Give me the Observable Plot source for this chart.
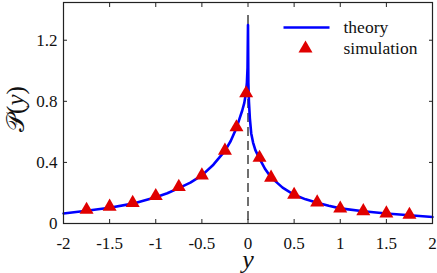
<!DOCTYPE html>
<html>
<head>
<meta charset="utf-8">
<script src="https://cdn.jsdelivr.net/npm/d3@7"></script>
<script src="https://cdn.jsdelivr.net/npm/@observablehq/plot@0.6"></script>
<style>
  html, body { margin: 0; padding: 0; background: #fff; }
</style>
</head>
<body>
<div id="chart"></div>
<script>
// Theory curve
const theoryY = [-2, -1.75, -1.5, -1.25, -1, -0.875, -0.75, -0.625, -0.5, -0.375, -0.25, -0.1875, -0.125, -0.09, -0.0625, -0.04, -0.025, -0.012, -0.005, 0, 0.004, 0.01, 0.02, 0.035, 0.055, 0.08, 0.125, 0.1875, 0.25, 0.375, 0.5, 0.625, 0.75, 0.875, 1, 1.25, 1.5, 1.75, 2];
const theoryP = [0.066, 0.083, 0.103, 0.13, 0.172, 0.198, 0.232, 0.268, 0.315, 0.385, 0.475, 0.54, 0.625, 0.69, 0.74, 0.79, 0.845, 0.92, 1.02, 1.30, 0.92, 0.80, 0.69, 0.59, 0.53, 0.48, 0.425, 0.355, 0.302, 0.235, 0.188, 0.158, 0.136, 0.116, 0.099, 0.08, 0.066, 0.054, 0.043];

// Simulation points
const simY = [-1.75, -1.5, -1.25, -1, -0.75, -0.5, -0.25, -0.125, -0.02, 0.125, 0.25, 0.5, 0.75, 1, 1.25, 1.5, 1.75];
const simP = [0.09, 0.11, 0.135, 0.18, 0.24, 0.315, 0.477, 0.63, 0.853, 0.43, 0.30, 0.188, 0.138, 0.098, 0.081, 0.066, 0.057];

// Ticks
const xTicks = [-2, -1.5, -1, -0.5, 0, 0.5, 1, 1.5, 2];
const yTicks = [0, 0.4, 0.8, 1.2];
const xDomain = [-2, 2];
const yDomain = [0, 1.447];

// Legend labels
const seriesNames = ["theory", "simulation"];
const xLabel = "y";
const yLabelP = "𝒫";

const theory = theoryY.map((y, i) => ({y, p: theoryP[i]}));
const sim = simY.map((y, i) => ({y, p: simP[i]}));

const lineSymbol = {
  draw(context, size) {
    context.moveTo(-23, 0);
    context.lineTo(23, 0);
  }
};

const fmt = d => String(d);
const SERIF = "'Liberation Serif', 'Times New Roman', 'DejaVu Serif', serif";

const chart = Plot.plot({
  width: 437,
  height: 273,
  marginLeft: 63,
  marginRight: 5,
  marginTop: 2,
  marginBottom: 50,
  style: {background: "#fff", color: "#111"},
  x: {domain: xDomain},
  y: {domain: yDomain},
  marks: [
    Plot.ruleX([0], {stroke: "#333", strokeWidth: 1.4, strokeDasharray: "9,5", insetTop: 13}),
    Plot.line(theory, {x: "y", y: "p", stroke: "#0000ff", strokeWidth: 2.6}),
    Plot.dot(sim, {x: "y", y: "p", symbol: "triangle", r: 5.2, fill: "#e00000", stroke: "none"}),
    Plot.frame({stroke: "#222", strokeWidth: 1.2}),
    Plot.axisX({ticks: xTicks, tickSize: -4, tickPadding: 17, tickFormat: fmt, label: null, stroke: "#222", fontSize: 17}),
    Plot.axisX({anchor: "top", ticks: xTicks, tickSize: -4, tickFormat: () => "", label: null, stroke: "#222"}),
    Plot.axisY({ticks: yTicks, tickSize: -4, tickPadding: 10, tickFormat: fmt, label: null, stroke: "#222", fontSize: 17}),
    Plot.axisY({anchor: "right", ticks: yTicks, tickSize: -4, tickFormat: () => "", label: null, stroke: "#222"}),
    // legend
    Plot.dot([seriesNames[0]], {frameAnchor: "top-right", dx: -126, dy: 25, symbol: lineSymbol, r: 5, fill: "none", stroke: "#0000ff", strokeWidth: 2.6}),
    Plot.dot([seriesNames[1]], {frameAnchor: "top-right", dx: -127, dy: 46, symbol: "triangle", r: 5.2, fill: "#e00000", stroke: "none"}),
    Plot.text([seriesNames[0]], {text: d => d, frameAnchor: "top-right", dx: -89, dy: 25, textAnchor: "start", lineAnchor: "middle", fontSize: 17.5}),
    Plot.text([seriesNames[1]], {text: d => d, frameAnchor: "top-right", dx: -89, dy: 46, textAnchor: "start", lineAnchor: "middle", fontSize: 17.5}),
    // x axis label
    Plot.text([xLabel], {text: d => d, frameAnchor: "bottom", dy: 44, lineAnchor: "bottom", fontSize: 26, fontStyle: "italic"}),
  ]
});

const ns = "http://www.w3.org/2000/svg";
const t = document.createElementNS(ns, "text");
t.setAttribute("transform", "translate(15,109) rotate(-90)");
t.setAttribute("text-anchor", "middle");
t.setAttribute("dominant-baseline", "central");
t.setAttribute("font-size", "25");
t.setAttribute("fill", "#111");
const s1 = document.createElementNS(ns, "tspan"); s1.textContent = yLabelP;
const s2 = document.createElementNS(ns, "tspan"); s2.textContent = "(";
const s3 = document.createElementNS(ns, "tspan"); s3.textContent = xLabel; s3.setAttribute("font-style", "italic");
const s4 = document.createElementNS(ns, "tspan"); s4.textContent = ")";
t.append(s1, s2, s3, s4);
chart.appendChild(t);

// put the serif family directly on every text element
chart.setAttribute("font-family", SERIF);
chart.querySelectorAll("text, tspan").forEach(el => {
  el.setAttribute("font-family", SERIF);
  el.style.fontFamily = SERIF;
});

document.getElementById("chart").appendChild(chart);
</script>
</body>
</html>
